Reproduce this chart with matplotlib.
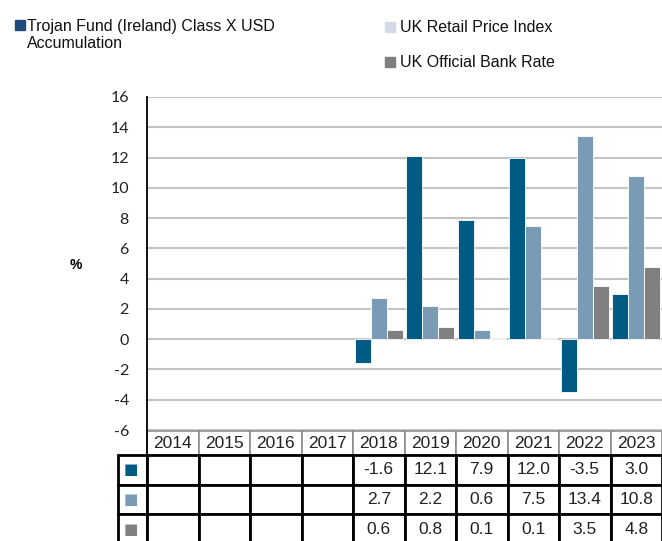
import numpy as np
import matplotlib
matplotlib.use("Agg")
import matplotlib.pyplot as plt
from matplotlib.patches import Rectangle
from matplotlib.transforms import blended_transform_factory

plt.rcParams['axes.unicode_minus'] = False

W, H = 662, 541

years = ['2014', '2015', '2016', '2017', '2018', '2019', '2020', '2021', '2022', '2023']
fund = [np.nan, np.nan, np.nan, np.nan, -1.6, 12.1, 7.9, 12.0, -3.5, 3.0]
rpi = [np.nan, np.nan, np.nan, np.nan, 2.7, 2.2, 0.6, 7.5, 13.4, 10.8]
bank = [np.nan, np.nan, np.nan, np.nan, 0.6, 0.8, 0.1, 0.1, 3.5, 4.8]
series_names = [['Trojan Fund (Ireland) Class X USD', 'Accumulation'],
                ['UK Retail Price Index'], ['UK Official Bank Rate']]

bar_colors = ['#005b84', '#7a9bb6', '#808080']
legend_colors = ['#1f4a7c', '#d3dbe5', '#808080']

narrow = ['Liberation Sans Narrow', 'Liberation Sans', 'DejaVu Sans']
arial = ['Liberation Sans', 'DejaVu Sans']
human = ['Lato', 'DejaVu Sans']


def fx(x):
    return x / W


def fy(y):
    return 1 - y / H


AX_TOP, AX_BOT = 97, 430
fig = plt.figure(figsize=(W / 100, H / 100), dpi=100)
ax = fig.add_axes([fx(147), fy(AX_BOT), fx(662) - fx(147), fy(AX_TOP) - fy(AX_BOT)])

x = np.arange(len(years))
bw = 0.31
for i, vals in enumerate([fund, rpi, bank]):
    ax.bar(x + 0.035 + i * bw, vals, width=bw, align='edge',
           color=bar_colors[i], edgecolor='white', linewidth=0.6, zorder=3)

ax.set_xlim(0, len(years))
ax.set_ylim(-6, 16)
ax.set_yticks(np.arange(-6, 17, 2))
ax.set_xticks([])
ax.yaxis.grid(True, color='#c4c4c4', linewidth=1.5, zorder=0)
for s in ['top', 'right', 'bottom']:
    ax.spines[s].set_visible(False)
ax.spines['left'].set_color('black')
ax.spines['left'].set_linewidth(1.3)
ax.spines['left'].set_zorder(4)
ax.tick_params(axis='y', length=0, pad=13, labelsize=11.5, labelcolor='#222222')
for lab in ax.get_yticklabels():
    lab.set_fontfamily(human)

fig.text(fx(76), fy(265), '%', fontsize=10, fontweight='bold',
         family=arial, ha='center', va='center')

# table under the bars, x in data units, y in axes units
tr = blended_transform_factory(ax.transData, ax.transAxes)


def ay(py):
    return (AX_BOT - py) / (AX_BOT - AX_TOP)


def fmt(v):
    return '' if np.isnan(v) else f'{v:.1f}'


row_edges = [431, 455, 485, 514, 545]
label_left = -29 / 51.5

# header row
for c, yr in enumerate(years):
    ax.add_patch(Rectangle((c, ay(row_edges[1])), 1, ay(row_edges[0]) - ay(row_edges[1]),
                           transform=tr, clip_on=False, facecolor='white',
                           edgecolor='#8c8c8c', linewidth=1.2, zorder=5))
    ax.text(c + 0.5, (ay(row_edges[0]) + ay(row_edges[1])) / 2, yr, transform=tr,
            ha='center', va='center', fontsize=12.5, family=narrow,
            color='#222222', zorder=7)
ax.plot([0, 0], [ay(row_edges[0]), ay(row_edges[1])], transform=tr,
        color='black', linewidth=1.3, clip_on=False, zorder=6)

# data rows
for r, vals in enumerate([fund, rpi, bank]):
    top, bot = ay(row_edges[r + 1]), ay(row_edges[r + 2])
    mid = (top + bot) / 2
    ax.add_patch(Rectangle((label_left, bot), -label_left, top - bot, transform=tr,
                           clip_on=False, facecolor='white', edgecolor='black',
                           linewidth=2, zorder=5))
    ax.text(label_left / 2 - 0.03, mid, '\u25A0', transform=tr, ha='center',
            va='center', fontsize=11, color=bar_colors[r], zorder=7)
    for c, v in enumerate(vals):
        ax.add_patch(Rectangle((c, bot), 1, top - bot, transform=tr, clip_on=False,
                               facecolor='white', edgecolor='black', linewidth=2,
                               zorder=5))
        ax.text(c + 0.5, mid, fmt(v), transform=tr, ha='center', va='center',
                fontsize=12.5, family=narrow, color='#222222', zorder=7)

# legend drawn by hand
squares = [(15, 20), (385, 22), (385, 57)]
baselines = [(27, [31, 48.5]), (400, [32]), (400, [67])]
for (sx, sy), (tx, tys), lines, col in zip(squares, baselines, series_names, legend_colors):
    fig.add_artist(Rectangle((fx(sx), fy(sy + 10)), 10 / W, 10 / H,
                             transform=fig.transFigure, color=col))
    for ty, line in zip(tys, lines):
        fig.text(fx(tx), fy(ty), line, fontsize=11.5, family=arial,
                 ha='left', va='baseline', color='#111111')

fig.savefig('out.png', dpi=100)
